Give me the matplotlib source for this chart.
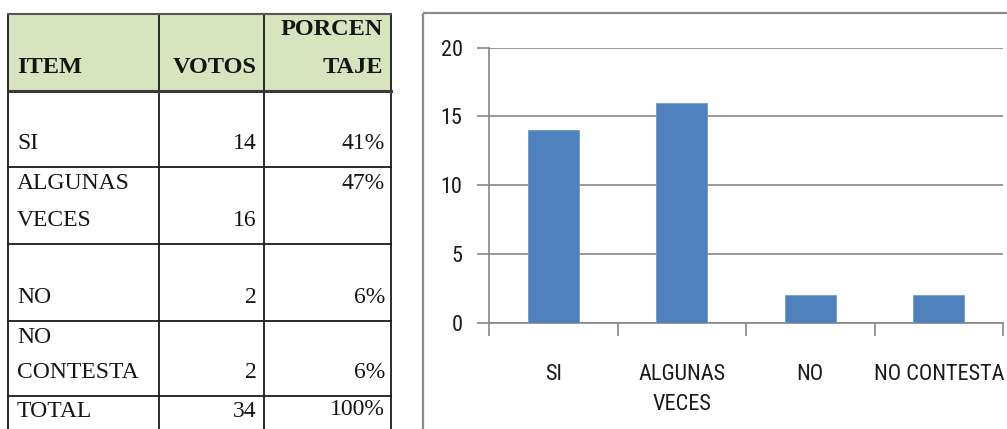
import matplotlib.pyplot as plt
from matplotlib.patches import Rectangle

# data
items_chart = ['SI', 'ALGUNAS\nVECES', 'NO', 'NO CONTESTA']
items_table = ['SI', 'ALGUNAS\nVECES', 'NO', 'NO\nCONTESTA']
votos = [14, 16, 2, 2]
porcentaje = ['41%', '47%', '6%', '6%']
total_votos = 34
total_pct = '100%'
headers = ['ITEM', 'VOTOS', 'PORCEN\nTAJE']

W, H = 1007, 429
fig = plt.figure(figsize=(W / 100, H / 100), dpi=100)

# full-figure axes in pixel units, for the table and the chart frame
tab = fig.add_axes([0, 0, 1, 1])
tab.set_xlim(0, W)
tab.set_ylim(H, 0)
tab.axis('off')

serif = ['Liberation Serif', 'DejaVu Serif']
narrow = ['Roboto Condensed', 'Liberation Sans']

x_l, x_c1, x_c2, x_r = 8, 159, 264, 391
y_top, y_head = 14, 91
row_edges = [91, 167, 244, 321, 396, 440]

tab.add_patch(Rectangle((x_l, y_top), x_r - x_l, y_head - y_top,
                        facecolor='#d7e4bd', edgecolor='none'))
lc = '#1a1a1a'
for x in (x_l, x_c1, x_c2, x_r):
    tab.plot([x, x], [y_top, H + 5], color=lc, lw=1.3)
tab.plot([x_l, x_r], [y_top, y_top], color='#555555', lw=1.5)
tab.plot([x_l, x_r], [y_head, y_head], color='#3a3a3a', lw=2.2)
for y in row_edges[1:-1]:
    tab.plot([x_l, x_r], [y, y], color=lc, lw=1.3)

# header
hs = 17.5
tc = '#151515'
tab.text(x_l + 9, 72.7, headers[0], fontsize=hs, fontweight='bold',
         family=serif, va='baseline', ha='left', color=tc)
tab.text(x_c2 - 7, 72.7, headers[1], fontsize=hs, fontweight='bold',
         family=serif, va='baseline', ha='right', color=tc)
h3 = headers[2].split('\n')
tab.text(x_r - 8, 35, h3[0], fontsize=hs, fontweight='bold',
         family=serif, va='baseline', ha='right', color=tc)
tab.text(x_r - 8, 72.7, h3[1], fontsize=hs, fontweight='bold',
         family=serif, va='baseline', ha='right', color=tc)

# body rows
bs = 17
pct_top = [False, True, False, False]
for i, (name, v, p) in enumerate(zip(items_table, votos, porcentaje)):
    top, bot = row_edges[i], row_edges[i + 1]
    lines = name.split('\n')
    if len(lines) == 2:
        tab.text(x_l + 9, top + 22, lines[0], fontsize=bs, family=serif,
                 va='baseline', color=tc)
        tab.text(x_l + 9, bot - 18, lines[1], fontsize=bs, family=serif,
                 va='baseline', color=tc)
    else:
        tab.text(x_l + 9, bot - 18, lines[0], fontsize=bs, family=serif,
                 va='baseline', color=tc)
    tab.text(x_c2 - 7, bot - 18, str(v), fontsize=bs, family=serif,
             va='baseline', ha='right', color=tc)
    py = top + 22 if pct_top[i] else bot - 18
    tab.text(x_r - 6, py, p, fontsize=bs, family=serif, va='baseline',
             ha='right', color=tc)

top = row_edges[4]
tab.text(x_l + 9, top + 21, 'TOTAL', fontsize=bs, family=serif,
         va='baseline', color=tc)
tab.text(x_c2 - 7, top + 21, str(total_votos), fontsize=bs, family=serif,
         va='baseline', ha='right', color=tc)
tab.text(x_r - 6, top + 19, total_pct, fontsize=bs, family=serif,
         va='baseline', ha='right', color=tc)

# chart frame
tab.add_patch(Rectangle((423, 13), 700, 500, facecolor='none',
                        edgecolor='#8a8a8a', lw=1.6))

# bar chart
ax = fig.add_axes([489 / W, (H - 322.7) / H, (1003 - 489) / W, 275 / H])
ax.set_facecolor('none')
pos = list(range(len(votos)))
ax.bar(pos, votos, width=0.4, color='#4f81bd', edgecolor='#6f9bd0', lw=0.6, zorder=3)
ax.set_xlim(-0.5, 3.5)
ax.set_ylim(0, 20)
ax.set_yticks([0, 5, 10, 15, 20])
ax.yaxis.grid(True, color='#868686', lw=1.2, zorder=0)
ax.set_axisbelow(True)
for s in ('top', 'right'):
    ax.spines[s].set_visible(False)
for s in ('left', 'bottom'):
    ax.spines[s].set_color('#868686')
    ax.spines[s].set_linewidth(1.2)
ax.set_xticks([-0.5, 0.5, 1.5, 2.5, 3.5])
ax.set_xticklabels([])
ax.set_xticks(pos, minor=True)
ax.set_xticklabels(items_chart, minor=True, family=narrow, fontsize=16,
                   linespacing=1.55, va='top')
ax.tick_params(axis='x', which='major', length=9, width=1.2, color='#868686',
               direction='out')
ax.tick_params(axis='x', which='minor', length=0, pad=30, colors='#1a1a1a')
ax.tick_params(axis='y', length=9, width=1.2, color='#868686', pad=10,
               labelcolor='#1a1a1a')
for lab in ax.get_yticklabels():
    lab.set_family(narrow)
    lab.set_fontsize(16)

fig.savefig('out.png', dpi=100)
